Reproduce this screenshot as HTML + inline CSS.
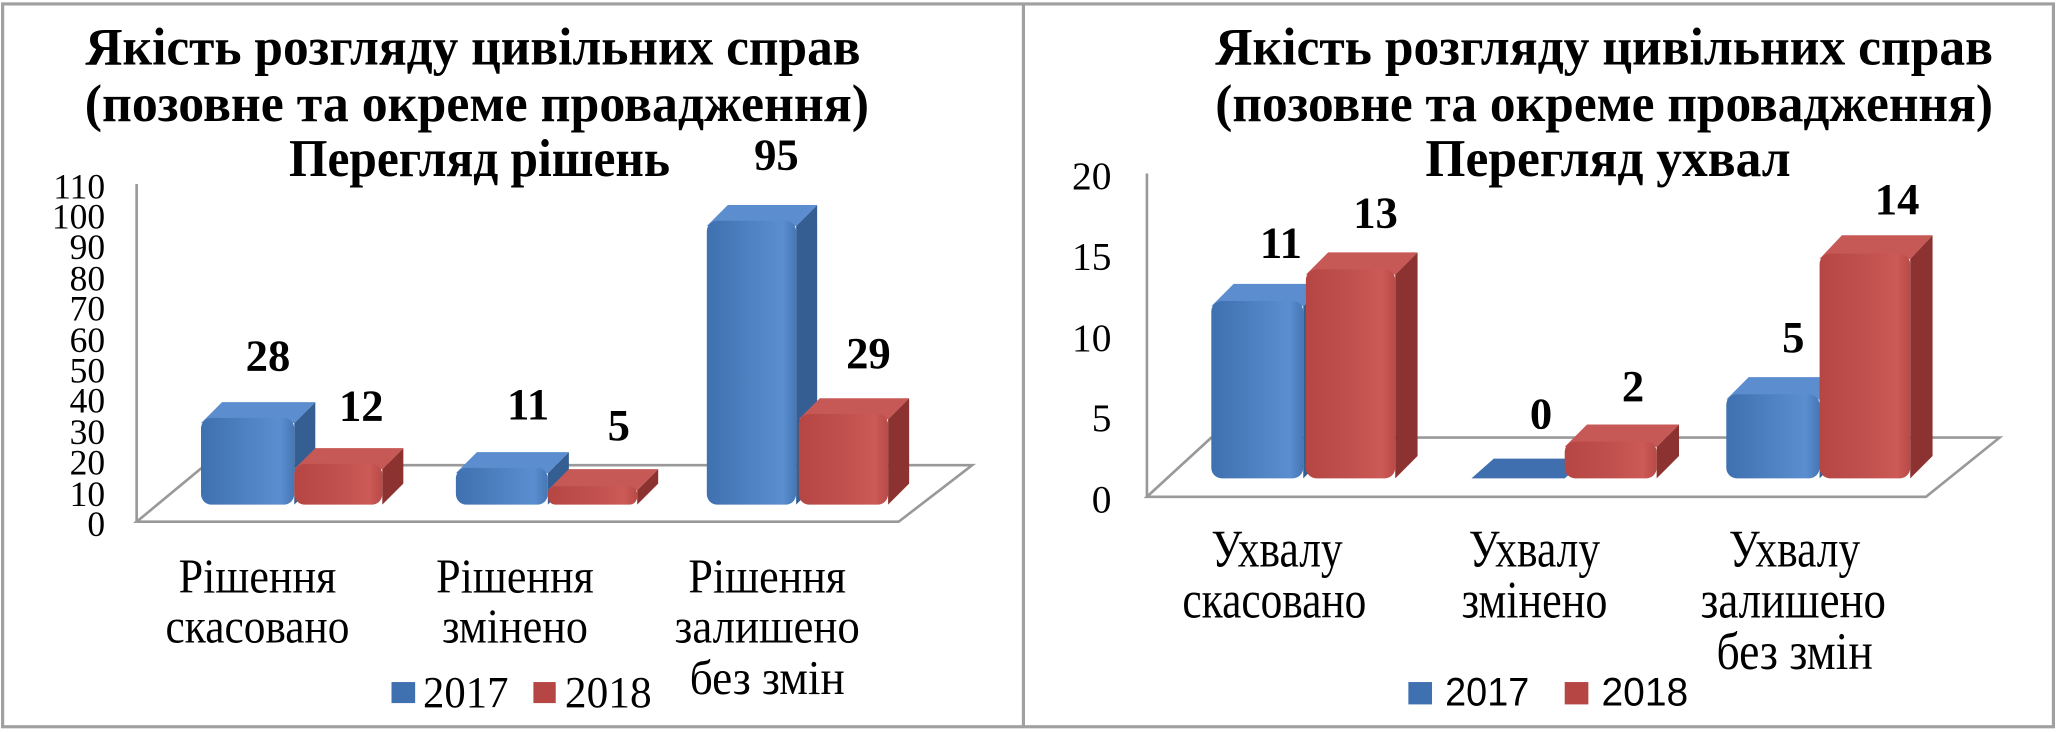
<!DOCTYPE html>
<html><head><meta charset="utf-8"><style>
html,body{margin:0;padding:0;background:#fff;}
svg{display:block;}
.t{font-family:"Liberation Serif",serif;font-weight:bold;font-size:40px;fill:#000;}
.n{font-family:"Liberation Serif",serif;font-weight:bold;font-size:34px;fill:#000;text-anchor:middle;}
.c{font-family:"Liberation Serif",serif;font-size:37px;fill:#000;}
.c2{font-family:"Liberation Serif",serif;font-size:40px;fill:#000;}
.y{font-family:"Liberation Serif",serif;font-size:27px;fill:#000;text-anchor:end;}
.y2{font-family:"Liberation Serif",serif;font-size:30px;fill:#000;text-anchor:end;}
.lg{font-family:"Liberation Serif",serif;font-size:34px;fill:#000;}
.lg2{font-family:"Liberation Sans",sans-serif;font-size:30px;fill:#000;}
</style></head><body>
<svg width="2060" height="732" viewBox="0 0 1568 557" preserveAspectRatio="none" xmlns="http://www.w3.org/2000/svg">
<defs>
<linearGradient id="gb" x1="0" x2="1" y1="0" y2="0"><stop offset="0" stop-color="#3f70b0"/><stop offset="0.5" stop-color="#4f82c2"/><stop offset="0.85" stop-color="#5a8ed0"/><stop offset="1" stop-color="#4677b5"/></linearGradient>
<linearGradient id="gr" x1="0" x2="1" y1="0" y2="0"><stop offset="0" stop-color="#b64643"/><stop offset="0.5" stop-color="#c0504d"/><stop offset="0.85" stop-color="#cc5a57"/><stop offset="1" stop-color="#b84a47"/></linearGradient>
</defs>
<rect x="0" y="0" width="1568" height="557" fill="#fff"/>
<rect x="2" y="3" width="1561" height="550" fill="none" stroke="#a0a0a0" stroke-width="2.4"/>
<line x1="779" y1="3" x2="779" y2="553" stroke="#a0a0a0" stroke-width="2.4"/>

<!-- LEFT CHART -->
<text class="t" x="360" y="49" text-anchor="middle" textLength="590" lengthAdjust="spacingAndGlyphs">Якість розгляду цивільних справ</text>
<text class="t" x="363" y="92" text-anchor="middle" textLength="597" lengthAdjust="spacingAndGlyphs">(позовне та окреме провадження)</text>
<text class="t" x="365" y="134" text-anchor="middle" textLength="290" lengthAdjust="spacingAndGlyphs">Перегляд рішень</text>

<g class="y">
<text x="80" y="408">0</text><text x="80" y="385">10</text><text x="80" y="361">20</text><text x="80" y="338">30</text>
<text x="80" y="314">40</text><text x="80" y="291">50</text><text x="80" y="268">60</text><text x="80" y="244">70</text>
<text x="80" y="221">80</text><text x="80" y="197">90</text><text x="80" y="174">100</text><text x="80" y="151">110</text>
</g>
<line x1="104" y1="140" x2="104" y2="397" stroke="#999" stroke-width="2"/>
<polygon points="104,397 156,354 740,354 684,397" fill="none" stroke="#999" stroke-width="2"/>

<g>
<polygon points="224,322 240,306 240,368 224,384" fill="#355f93"/><polygon points="153,322 169,306 240,306 224,322" fill="#5c8ecf"/><rect x="153" y="318" width="71" height="66" rx="8" fill="url(#gb)"/>
<polygon points="291,357 307,341 307,368 291,384" fill="#8c3331"/><polygon points="224,357 240,341 307,341 291,357" fill="#c65855"/><rect x="224" y="353" width="67" height="31" rx="8" fill="url(#gr)"/>

<polygon points="417,360 433,344 433,368 417,384" fill="#355f93"/><polygon points="347,360 363,344 433,344 417,360" fill="#5c8ecf"/><rect x="347" y="356" width="70" height="28" rx="8" fill="url(#gb)"/>
<polygon points="485,373 501,357 501,368 485,384" fill="#8c3331"/><polygon points="417,373 433,357 501,357 485,373" fill="#c65855"/><rect x="417" y="370" width="68" height="14" rx="6" fill="url(#gr)"/>

<polygon points="606,172 622,156 622,368 606,384" fill="#355f93"/><polygon points="538,172 554,156 622,156 606,172" fill="#5c8ecf"/><rect x="538" y="168" width="68" height="216" rx="8" fill="url(#gb)"/>
<polygon points="676,319 692,303 692,368 676,384" fill="#8c3331"/><polygon points="608,319 624,303 692,303 676,319" fill="#c65855"/><rect x="608" y="315" width="68" height="69" rx="8" fill="url(#gr)"/>
</g>
<text class="n" x="204" y="282">28</text>
<text class="n" x="275" y="320">12</text>
<text class="n" x="402" y="319">11</text>
<text class="n" x="471" y="335">5</text>
<text class="n" x="591" y="129">95</text>
<text class="n" x="661" y="280">29</text>

<text class="c" x="196" y="451" text-anchor="middle" textLength="120" lengthAdjust="spacingAndGlyphs">Рішення</text>
<text class="c" x="196" y="489" text-anchor="middle" textLength="140" lengthAdjust="spacingAndGlyphs">скасовано</text>
<text class="c" x="392" y="451" text-anchor="middle" textLength="120" lengthAdjust="spacingAndGlyphs">Рішення</text>
<text class="c" x="392" y="489" text-anchor="middle" textLength="111" lengthAdjust="spacingAndGlyphs">змінено</text>
<text class="c" x="584" y="451" text-anchor="middle" textLength="120" lengthAdjust="spacingAndGlyphs">Рішення</text>
<text class="c" x="584" y="489" text-anchor="middle" textLength="141" lengthAdjust="spacingAndGlyphs">залишено</text>
<text class="c" x="584" y="528" text-anchor="middle" textLength="118" lengthAdjust="spacingAndGlyphs">без змін</text>

<rect x="298" y="519" width="18" height="16" fill="#3f70b0"/>
<text class="lg" x="322" y="538" textLength="65" lengthAdjust="spacingAndGlyphs">2017</text>
<rect x="406" y="519" width="17" height="16" fill="#b64643"/>
<text class="lg" x="430" y="538" textLength="66" lengthAdjust="spacingAndGlyphs">2018</text>

<!-- RIGHT CHART -->
<text class="t" x="1221" y="49" text-anchor="middle" textLength="592" lengthAdjust="spacingAndGlyphs">Якість розгляду цивільних справ</text>
<text class="t" x="1221" y="92" text-anchor="middle" textLength="592" lengthAdjust="spacingAndGlyphs">(позовне та окреме провадження)</text>
<text class="t" x="1224" y="134" text-anchor="middle" textLength="278" lengthAdjust="spacingAndGlyphs">Перегляд ухвал</text>

<g class="y2">
<text x="846" y="390">0</text><text x="846" y="328">5</text><text x="846" y="267">10</text><text x="846" y="205">15</text><text x="846" y="144">20</text>
</g>
<line x1="873" y1="132" x2="873" y2="378" stroke="#999" stroke-width="2"/>
<polygon points="873,378 922,333 1522,333 1466,378" fill="none" stroke="#999" stroke-width="2"/>

<g>
<polygon points="992,233 1009,216 1009,347 992,364" fill="#355f93"/><polygon points="922,233 939,216 1009,216 992,233" fill="#5c8ecf"/><rect x="922" y="229" width="70" height="135" rx="8" fill="url(#gb)"/>
<polygon points="1062,209 1079,192 1079,347 1062,364" fill="#8c3331"/><polygon points="994,209 1011,192 1079,192 1062,209" fill="#c65855"/><rect x="994" y="205" width="68" height="159" rx="8" fill="url(#gr)"/>

<polygon points="1120,364 1137,349 1208,349 1191,364" fill="#3f6fae"/>
<polygon points="1261,340 1278,323 1278,347 1261,364" fill="#8c3331"/><polygon points="1191,340 1208,323 1278,323 1261,340" fill="#c65855"/><rect x="1191" y="336" width="70" height="28" rx="8" fill="url(#gr)"/>

<polygon points="1385,304 1402,287 1402,347 1385,364" fill="#355f93"/><polygon points="1314,304 1331,287 1402,287 1385,304" fill="#5c8ecf"/><rect x="1314" y="300" width="71" height="64" rx="8" fill="url(#gb)"/>
<polygon points="1454,197 1471,179 1471,347 1454,364" fill="#8c3331"/><polygon points="1385,197 1402,179 1471,179 1454,197" fill="#c65855"/><rect x="1385" y="193" width="69" height="171" rx="8" fill="url(#gr)"/>
</g>
<text class="n" x="975" y="196">11</text>
<text class="n" x="1047" y="173">13</text>
<text class="n" x="1173" y="326">0</text>
<text class="n" x="1243" y="305">2</text>
<text class="n" x="1365" y="268">5</text>
<text class="n" x="1444" y="163">14</text>

<text class="c2" x="972" y="431" text-anchor="middle" textLength="100" lengthAdjust="spacingAndGlyphs">Ухвалу</text>
<text class="c2" x="970" y="470" text-anchor="middle" textLength="140" lengthAdjust="spacingAndGlyphs">скасовано</text>
<text class="c2" x="1168" y="431" text-anchor="middle" textLength="100" lengthAdjust="spacingAndGlyphs">Ухвалу</text>
<text class="c2" x="1168" y="470" text-anchor="middle" textLength="111" lengthAdjust="spacingAndGlyphs">змінено</text>
<text class="c2" x="1366" y="431" text-anchor="middle" textLength="100" lengthAdjust="spacingAndGlyphs">Ухвалу</text>
<text class="c2" x="1365" y="470" text-anchor="middle" textLength="141" lengthAdjust="spacingAndGlyphs">залишено</text>
<text class="c2" x="1366" y="509" text-anchor="middle" textLength="119" lengthAdjust="spacingAndGlyphs">без змін</text>

<rect x="1072" y="519" width="18" height="17" fill="#3f70b0"/>
<text class="lg2" x="1100" y="537" textLength="64" lengthAdjust="spacingAndGlyphs">2017</text>
<rect x="1191" y="519" width="18" height="17" fill="#b64643"/>
<text class="lg2" x="1219" y="537" textLength="66" lengthAdjust="spacingAndGlyphs">2018</text>
</svg>
</body></html>
